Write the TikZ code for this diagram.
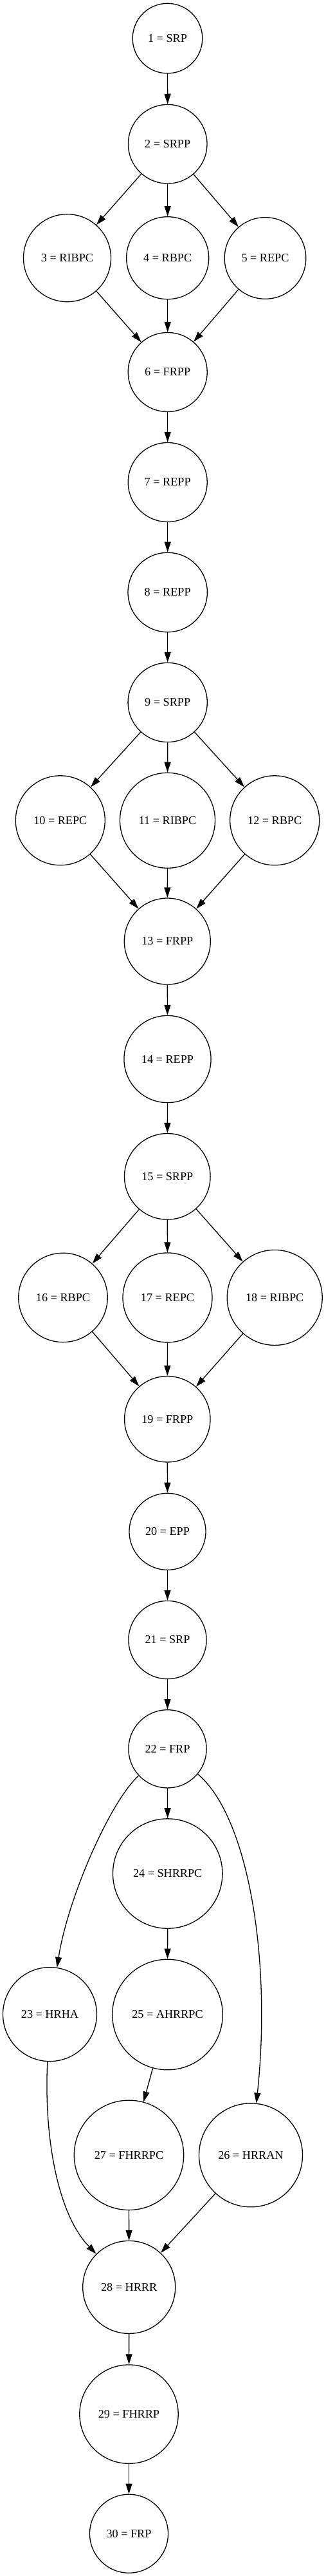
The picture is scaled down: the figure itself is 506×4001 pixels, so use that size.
\documentclass[tikz,border=0pt]{standalone}
\usepackage{fontspec}
\setmainfont{Liberation Serif}
\usetikzlibrary{arrows.meta}
\begin{document}
\begin{tikzpicture}[x=1pt,y=-1pt,
  nd/.style={circle,draw,line width=1.3pt,inner sep=0pt,font=\fontsize{18.2}{22}\selectfont},
  edge/.style={line width=1.3pt,-{Triangle[length=16pt,width=10pt]}}]
\useasboundingbox (0,0) rectangle (506,4001);
\node[nd,minimum size=108.6pt] (n1) at (260.5,59.6) {1 = SRP};
\node[nd,minimum size=122.6pt] (n2) at (260.7,223.7) {2 = SRPP};
\node[nd,minimum size=136pt] (n3) at (104.5,400.7) {3 = RIBPC};
\node[nd,minimum size=128pt] (n4) at (260.7,400.7) {4 = RBPC};
\node[nd,minimum size=126.6pt] (n5) at (412.5,401) {5 = REPC};
\node[nd,minimum size=123pt] (n6) at (260.7,578) {6 = FRPP};
\node[nd,minimum size=123pt] (n7) at (260.7,749) {7 = REPP};
\node[nd,minimum size=123.4pt] (n8) at (260.7,920) {8 = REPP};
\node[nd,minimum size=123.2pt] (n9) at (260.7,1091) {9 = SRPP};
\node[nd,minimum size=139pt] (n10) at (93.8,1274.3) {10 = REPC};
\node[nd,minimum size=148pt] (n11) at (260.5,1274.3) {11 = RIBPC};
\node[nd,minimum size=139pt] (n12) at (427.2,1274.3) {12 = RBPC};
\node[nd,minimum size=134pt] (n13) at (260.3,1462) {13 = FRPP};
\node[nd,minimum size=135.2pt] (n14) at (260.5,1645) {14 = REPP};
\node[nd,minimum size=133.6pt] (n15) at (260.3,1827.3) {15 = SRPP};
\node[nd,minimum size=138.4pt] (n16) at (98,2015.4) {16 = RBPC};
\node[nd,minimum size=139pt] (n17) at (260.5,2015.4) {17 = REPC};
\node[nd,minimum size=148pt] (n18) at (427.2,2015.4) {18 = RIBPC};
\node[nd,minimum size=133.4pt] (n19) at (260.3,2204.2) {19 = FRPP};
\node[nd,minimum size=119pt] (n20) at (260.5,2378.8) {20 = EPP};
\node[nd,minimum size=121.2pt] (n21) at (260.5,2547) {21 = SRP};
\node[nd,minimum size=121.2pt] (n22) at (260.5,2716.3) {22 = FRP};
\node[nd,minimum size=146pt] (n23) at (77.5,3128.6) {23 = HRHA};
\node[nd,minimum size=170.4pt] (n24) at (260.7,2910) {24 = SHRRPC};
\node[nd,minimum size=171.6pt] (n25) at (260.5,3129) {25 = AHRRPC};
\node[nd,minimum size=161pt] (n26) at (390,3347.3) {26 = HRRAN};
\node[nd,minimum size=170.4pt] (n27) at (200.5,3347.3) {27 = FHRRPC};
\node[nd,minimum size=144pt] (n28) at (200.7,3552.4) {28 = HRRR};
\node[nd,minimum size=153.4pt] (n29) at (200.5,3749.6) {29 = FHRRP};
\node[nd,minimum size=122pt] (n30) at (200.5,3935.2) {30 = FRP};
\draw[edge] (n1) -- (n2);
\draw[edge] (n2) -- (n3);
\draw[edge] (n2) -- (n4);
\draw[edge] (n2) -- (n5);
\draw[edge] (n3) -- (n6);
\draw[edge] (n4) -- (n6);
\draw[edge] (n5) -- (n6);
\draw[edge] (n6) -- (n7);
\draw[edge] (n7) -- (n8);
\draw[edge] (n8) -- (n9);
\draw[edge] (n9) -- (n10);
\draw[edge] (n9) -- (n11);
\draw[edge] (n9) -- (n12);
\draw[edge] (n10) -- (n13);
\draw[edge] (n11) -- (n13);
\draw[edge] (n12) -- (n13);
\draw[edge] (n13) -- (n14);
\draw[edge] (n14) -- (n15);
\draw[edge] (n15) -- (n16);
\draw[edge] (n15) -- (n17);
\draw[edge] (n15) -- (n18);
\draw[edge] (n16) -- (n19);
\draw[edge] (n17) -- (n19);
\draw[edge] (n18) -- (n19);
\draw[edge] (n19) -- (n20);
\draw[edge] (n20) -- (n21);
\draw[edge] (n21) -- (n22);
\draw[edge] (n22) .. controls (170,2800) and (105,2950) .. (n23);
\draw[edge] (n22) -- (n24);
\draw[edge] (n22) .. controls (385,2820) and (423,3040) .. (n26);
\draw[edge] (n24) -- (n25);
\draw[edge] (n25) -- (n27);
\draw[edge] (n23) .. controls (68,3320) and (90,3440) .. (n28);
\draw[edge] (n27) -- (n28);
\draw[edge] (n26) -- (n28);
\draw[edge] (n28) -- (n29);
\draw[edge] (n29) -- (n30);
\end{tikzpicture}
\end{document}
